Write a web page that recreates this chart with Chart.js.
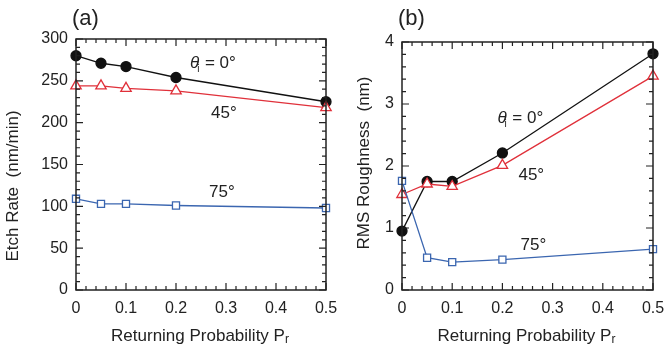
<!DOCTYPE html>
<html>
<head>
<meta charset="utf-8">
<script src="https://cdn.jsdelivr.net/npm/chart.js@4.4.1/dist/chart.umd.min.js"></script>
<style>
  body { margin: 0; background: #fff; }
  .wrap { position: relative; width: 666px; height: 347px; }
  .box { position: absolute; top: 0; height: 347px; }
  #boxA { left: 0; width: 345px; }
  #boxB { left: 333px; width: 333px; }
</style>
</head>
<body>
<div class="wrap">
  <div class="box" id="boxA"><canvas id="chartA"></canvas></div>
  <div class="box" id="boxB"><canvas id="chartB"></canvas></div>
</div>
<script>
// data
const probs = [0, 0.05, 0.1, 0.2, 0.5];
const etch0 = [280, 271, 267, 254, 225];
const etch45 = [244, 244, 241, 238, 218];
const etch75 = [109, 103, 103, 101, 98];
const rough0 = [0.95, 1.75, 1.75, 2.21, 3.81];
const rough45 = [1.54, 1.71, 1.67, 2.01, 3.45];
const rough75 = [1.76, 0.52, 0.45, 0.49, 0.66];
const xTicks = [0, 0.1, 0.2, 0.3, 0.4, 0.5];
const etchTicks = [0, 50, 100, 150, 200, 250, 300];
const roughTicks = [0, 1, 2, 3, 4];

const FONT = "'Liberation Sans', Arial, Helvetica, sans-serif";
const BLACK = "#111";
const RED = "#e0303a";
const BLUE = "#3b66b0";

const pts = ys => probs.map((p, i) => ({ x: p, y: ys[i] }));

function series(ys, color, style, radius, fill) {
  return {
    data: pts(ys),
    borderColor: color,
    backgroundColor: fill,
    pointBorderColor: color,
    pointBackgroundColor: fill,
    pointStyle: style,
    pointRadius: radius,
    pointBorderWidth: 1.3,
    borderWidth: 1.3,
    clip: false
  };
}

// frame, inward ticks, titles and labels
const decor = {
  id: "decor",
  afterDraw(chart, args, o) {
    const { ctx, chartArea: a, scales } = chart;
    const x = scales.x, y = scales.y;
    ctx.save();
    ctx.strokeStyle = "#222";
    ctx.lineWidth = 1.5;
    ctx.strokeRect(a.left, a.top, a.right - a.left, a.bottom - a.top);
    ctx.lineWidth = 1.2;
    ctx.beginPath();
    for (let v = 0; v <= 0.5001; v += 0.02) {
      const px = x.getPixelForValue(v);
      const len = Math.abs(v * 10 - Math.round(v * 10)) < 1e-6 ? 7 : 4;
      ctx.moveTo(px, a.bottom); ctx.lineTo(px, a.bottom - len);
      ctx.moveTo(px, a.top); ctx.lineTo(px, a.top + len);
    }
    for (let v = y.min; v <= y.max + 1e-6; v += o.yMinor) {
      const py = y.getPixelForValue(v);
      const r = v / o.yMajor;
      const len = Math.abs(r - Math.round(r)) < 1e-6 ? 7 : 4;
      ctx.moveTo(a.left, py); ctx.lineTo(a.left + len, py);
      ctx.moveTo(a.right, py); ctx.lineTo(a.right - len, py);
    }
    ctx.stroke();

    ctx.fillStyle = "#222";
    // panel letter
    ctx.font = "22px " + FONT;
    ctx.textAlign = "left";
    ctx.textBaseline = "middle";
    ctx.fillText(o.letter, a.left - 4, 19);

    // x axis title with subscript
    const cx = (a.left + a.right) / 2 - 1;
    const main = "Returning Probability P";
    ctx.font = "17px " + FONT;
    const w1 = ctx.measureText(main).width;
    ctx.font = "12px " + FONT;
    const w2 = ctx.measureText("r").width;
    const sx = cx - (w1 + w2) / 2;
    ctx.textBaseline = "alphabetic";
    ctx.font = "17px " + FONT;
    ctx.fillText(main, sx, 341);
    ctx.font = "12px " + FONT;
    ctx.fillText("r", sx + w1, 343);

    // y axis title
    ctx.save();
    ctx.translate(o.yTitleX, o.yTitleY);
    ctx.rotate(-Math.PI / 2);
    ctx.font = "17px " + FONT;
    ctx.textAlign = "center";
    ctx.textBaseline = "middle";
    ctx.fillText(o.yTitle, 0, 0);
    ctx.restore();

    // curve labels
    o.notes.forEach(n => {
      const px = x.getPixelForValue(n.x);
      const py = y.getPixelForValue(n.y);
      ctx.textBaseline = "middle";
      ctx.textAlign = "left";
      if (n.theta) {
        ctx.font = "italic 17px " + FONT;
        ctx.fillText("θ", px, py);
        const tw = ctx.measureText("θ").width;
        ctx.font = "10px " + FONT;
        ctx.fillText("i", px + tw - 2, py + 6);
        ctx.font = "17px " + FONT;
        ctx.fillText(" = 0°", px + tw + 1, py);
      } else {
        ctx.font = "17px " + FONT;
        ctx.fillText(n.text, px, py);
      }
    });
    ctx.restore();
  }
};

function makeChart(id, sets, yMax, yTicks, pad, yWidth, decorOpts) {
  return new Chart(document.getElementById(id), {
    type: "line",
    data: { datasets: sets },
    options: {
      responsive: true,
      maintainAspectRatio: false,
      animation: false,
      layout: { padding: pad },
      plugins: { legend: { display: false }, tooltip: { enabled: false }, decor: decorOpts },
      scales: {
        x: {
          type: "linear", min: 0, max: 0.5,
          grid: { display: false, drawTicks: false },
          border: { display: false },
          afterBuildTicks: s => { s.ticks = xTicks.map(v => ({ value: v })); },
          afterFit: s => { s.height = 57; s.paddingLeft = 0; s.paddingRight = 0; },
          ticks: {
            padding: 9, color: "#222", font: { family: FONT, size: 16 },
            callback: v => String(v)
          }
        },
        y: {
          type: "linear", min: 0, max: yMax,
          grid: { display: false, drawTicks: false },
          border: { display: false },
          afterBuildTicks: s => { s.ticks = yTicks.map(v => ({ value: v })); },
          afterFit: s => { s.width = yWidth; s.paddingTop = 0; s.paddingBottom = 0; },
          ticks: {
            padding: 8, color: "#222", font: { family: FONT, size: 16 },
            callback: v => String(v)
          }
        }
      }
    },
    plugins: [decor]
  });
}

makeChart("chartA", [
  series(etch75, BLUE, "rect", 5, "#fff"),
  series(etch45, RED, "triangle", 6, "#fff"),
  series(etch0, BLACK, "circle", 5, BLACK)
], 300, etchTicks, { left: 0, right: 19, top: 39, bottom: 0 }, 76, {
  letter: "(a)", yMinor: 10, yMajor: 50,
  yTitle: "Etch Rate  (nm/min)", yTitleX: 13, yTitleY: 186,
  notes: [
    { x: 0.228, y: 271, theta: true },
    { x: 0.27, y: 211, text: "45°" },
    { x: 0.266, y: 117, text: "75°" }
  ]
});

makeChart("chartB", [
  series(rough75, BLUE, "rect", 5, "#fff"),
  series(rough45, RED, "triangle", 6, "#fff"),
  series(rough0, BLACK, "circle", 5, BLACK)
], 4, roughTicks, { left: 0, right: 13, top: 42, bottom: 0 }, 69, {
  letter: "(b)", yMinor: 0.2, yMajor: 1,
  yTitle: "RMS Roughness  (nm)", yTitleX: 31, yTitleY: 163,
  notes: [
    { x: 0.19, y: 2.77, theta: true },
    { x: 0.232, y: 1.85, text: "45°" },
    { x: 0.236, y: 0.72, text: "75°" }
  ]
});
</script>
</body>
</html>
